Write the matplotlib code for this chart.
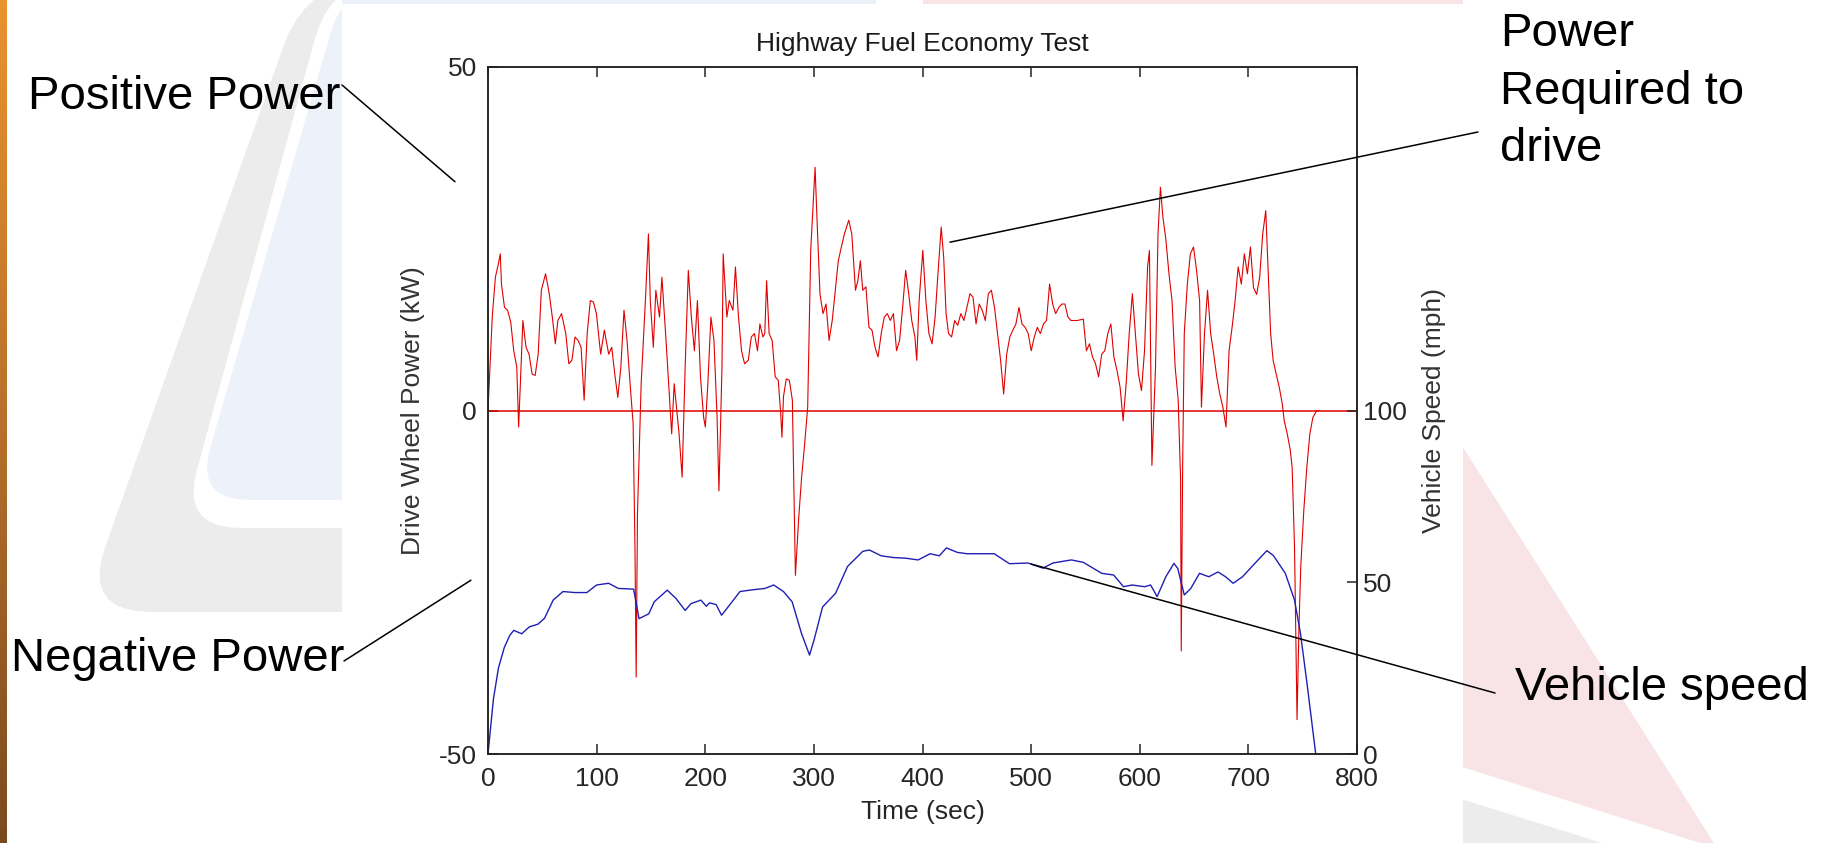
import numpy as np
import matplotlib
matplotlib.use('Agg')
import matplotlib.pyplot as plt
from matplotlib.patches import Polygon, Rectangle

plt.rcParams['font.family'] = ['Liberation Sans', 'DejaVu Sans']
plt.rcParams['axes.unicode_minus'] = False

W, H = 1832, 843

# drive wheel power (kW) vs time (s)
power_t = [0, 1.1, 3.9, 6.8, 9.6, 11.3, 12.4, 15.2, 18.0, 20.9, 23.7, 26.5, 28.2, 30.4, 32.1, 35.0,
           37.8, 40.6, 43.4, 46.2, 49.1, 53.0, 56.4, 59.2, 62.0, 64.3, 67.7, 71.6, 74.4, 77.2, 80.1,
           82.9, 85.7, 88.5, 91.3, 94.2, 97.0, 99.8, 103.7, 107.1, 111.1, 113.9, 116.7, 119.5, 122.3,
           125.2, 128.0, 130.8, 133.6, 135.3, 136.4, 137.6, 141.0, 144.9, 147.7, 149.4, 152.2, 154.5,
           157.9, 160.1, 163.5, 165.8, 169.1, 171.4, 175.9, 178.7, 181.5, 184.4, 187.2, 190.0, 192.8,
           195.6, 198.5, 200.1, 202.4, 205.2, 208.0, 210.9, 212.6, 215.4, 216.5, 219.9, 222.1, 225.5,
           227.8, 230.6, 233.4, 236.2, 239.6, 242.4, 245.3, 248.1, 250.3, 253.1, 254.8, 256.5, 258.8,
           261.6, 264.4, 267.2, 269.5, 270.6, 272.0, 274.6, 277.4, 280.2, 281.5, 283.0, 285.9, 288.7,
           291.5, 294.3, 297.1, 301.1, 302.8, 305.6, 308.4, 311.2, 314.0, 316.9, 319.7, 322.5, 325.3,
           328.1, 332.1, 334.9, 338.3, 340.5, 342.8, 345.0, 347.9, 350.7, 353.5, 356.3, 359.1, 362.0,
           364.8, 367.6, 370.4, 373.2, 376.1, 378.9, 381.7, 384.5, 387.3, 390.1, 393.0, 394.7, 396.9,
           400.3, 403.1, 405.9, 408.8, 411.6, 413.8, 417.2, 419.5, 421.7, 424.0, 426.8, 429.6, 432.4,
           435.3, 438.1, 440.9, 443.7, 446.5, 449.3, 452.2, 455.0, 457.8, 460.6, 463.4, 466.3, 469.1,
           471.9, 474.7, 477.5, 480.4, 483.2, 486.0, 488.8, 491.6, 494.5, 497.3, 500.1, 502.9, 505.7,
           508.5, 511.4, 514.2, 517.0, 519.8, 522.6, 525.5, 528.3, 531.1, 533.9, 536.7, 542.4, 548.0,
           550.9, 553.7, 556.5, 559.3, 562.1, 565.0, 567.8, 570.6, 573.4, 576.2, 579.1, 581.9, 584.7,
           587.5, 590.3, 593.2, 596.0, 598.8, 601.6, 604.4, 607.2, 608.9, 611.2, 614.5, 616.8, 619.0,
           621.3, 624.1, 626.9, 629.7, 632.6, 635.4, 637.6, 638.2, 639.5, 641.0, 643.8, 646.6, 649.5,
           652.3, 655.1, 656.8, 659.6, 662.4, 665.3, 668.1, 670.9, 673.7, 676.5, 679.4, 682.2, 685.0,
           687.8, 690.6, 693.5, 696.3, 699.1, 701.9, 704.7, 707.6, 710.4, 713.2, 716.0, 718.3, 720.5,
           722.8, 725.6, 728.4, 731.2, 733.0, 735.8, 738.6, 740.3, 742.5, 744.8, 746.5, 748.2, 751.0,
           753.8, 756.6, 759.4, 763.0, 765.0]
power_kw = [0, 3.9, 13.6, 19.4, 21.4, 22.8, 18.4, 15.0, 14.6, 12.9, 8.7, 6.3, -2.4, 6.3, 13.1, 9.2,
            8.2, 5.3, 5.1, 8.2, 17.5, 19.9, 17.0, 13.6, 9.7, 13.1, 14.1, 11.2, 6.8, 7.3, 10.7,
            10.2, 9.2, 1.5, 11.2, 16.0, 15.8, 14.1, 8.2, 11.7, 8.2, 9.2, 5.3, 1.9, 6.3,
            14.6, 10.2, 3.9, -1.9, -20.0, -38.8, -15.0, 3.9, 16.0, 25.7, 16.0, 9.2, 17.5,
            13.6, 19.4, 11.2, 5.3, -3.4, 3.9, -3.4, -9.7, 6.3, 20.4, 13.6, 8.7, 16.0,
            4.9, -1.0, -2.4, 3.9, 13.6, 10.2, -1.0, -11.7, 6.3, 22.8, 13.6, 16.0, 14.6,
            20.9, 13.6, 8.7, 6.8, 7.3, 10.7, 11.2, 8.7, 12.6, 10.7, 11.2, 18.9, 11.2,
            10.2, 4.9, 4.4, -0.5, -3.9, 2.0, 4.6, 4.4, 1.5, -10.0, -24.0, -16.0, -9.7,
            -4.9, 0.5, 23.3, 35.4, 28.2, 17.0, 14.1, 15.5, 10.2, 13.1, 17.5, 21.8, 23.8,
            25.7, 27.7, 25.7, 17.5, 18.9, 21.8, 17.5, 18.0, 12.1, 11.7, 9.2, 7.8, 11.2,
            13.6, 14.1, 13.1, 14.1, 8.7, 10.2, 15.0, 20.4, 17.0, 13.1, 10.7, 7.3, 16.0,
            23.3, 16.0, 11.2, 9.7, 13.6, 18.9, 26.7, 22.3, 14.1, 11.2, 10.7, 13.1, 12.4,
            14.1, 13.1, 15.0, 17.0, 16.5, 12.6, 15.5, 14.6, 13.1, 17.0, 17.5, 15.0, 11.2,
            7.3, 2.4, 8.2, 10.7, 11.7, 12.6, 15.0, 12.6, 12.1, 11.2, 8.7, 10.7, 12.1,
            11.2, 12.6, 13.1, 18.4, 15.5, 14.1, 15.0, 15.5, 15.5, 13.6, 13.1, 13.1, 13.3,
            8.7, 9.7, 7.8, 6.8, 4.9, 8.2, 8.7, 11.2, 12.6, 7.8, 5.8, 3.4, -1.5,
            3.9, 11.2, 17.0, 11.2, 5.3, 2.9, 8.7, 20.9, 23.3, -8.0, 6.3, 25.7, 32.5,
            28.2, 24.8, 19.9, 16.0, 6.3, 1.5, -10.0, -35.0, -8.0, 11.2, 18.4, 22.8, 23.8,
            20.4, 16.0, 0.5, 11.2, 17.5, 11.2, 8.2, 4.9, 2.4, 0.5, -2.4, 8.7, 12.1,
            16.0, 20.9, 18.4, 22.8, 19.9, 23.8, 17.9, 16.9, 19.4, 25.7, 29.1, 19.9, 11.2,
            7.3, 5.3, 3.4, 1.0, -1.5, -3.4, -5.8, -8.3, -20.0, -45.0, -32.0, -22.8, -14.6,
            -8.3, -3.4, -1.0, 0.0, 0.0]

# vehicle speed (mph) vs time (s)
speed_t = [0, 5, 9.6, 15, 20, 23.7, 31, 38, 46, 52, 60, 69, 80, 91, 100, 111, 120, 134, 136, 139,
           148, 153, 165, 173, 181.5, 187, 196, 201, 204, 210, 215, 221, 232, 243.5, 255, 263, 272,
           280, 288.7, 296, 300, 308, 320, 331, 345, 351, 362, 373, 384.5, 396, 407, 415.5, 422,
           432, 441, 466, 480, 497, 511, 520, 537, 548, 565, 576, 585, 593, 604.5, 610, 616, 624,
           631.5, 635, 641, 647, 655, 663.6, 672, 679, 686, 694.6, 706, 717, 723, 734, 742.5, 748,
           754, 762]
speed_mph = [0, 16, 25, 31, 34.5, 36, 35, 37, 37.8, 39.5, 44.8, 47.3, 47, 47, 49.2, 49.7, 48.2, 48,
             44.8, 39.4, 40.8, 44.3, 47.7, 45.3, 41.8, 43.8, 44.8, 43, 44, 43.5, 40.4, 42.8, 47.3,
             47.8, 48.2, 49.2, 47.3, 44.3, 35, 28.8, 33, 42.8, 46.8, 54.6, 59, 59.4, 57.7, 57.2, 57,
             56.5, 58.3, 57.7, 60, 58.7, 58.3, 58.3, 55.4, 55.6, 54.1, 55.6, 56.5, 55.8, 52.6, 52.1,
             48.7, 49.2, 48.7, 49.2, 45.8, 51.6, 55.5, 54, 46.3, 48.2, 52.6, 51.6, 53, 51.6, 49.7,
             51.6, 55.5, 59.2, 57.8, 52.6, 44.8, 35, 20.5, 0]

title = 'Highway Fuel Economy Test'
x_label = 'Time (sec)'
left_label = 'Drive Wheel Power (kW)'
right_label = 'Vehicle Speed (mph)'
x_ticks = [0, 100, 200, 300, 400, 500, 600, 700, 800]
power_ticks = [-50, 0, 50]
speed_ticks = [0, 50, 100]

# where each leader line touches the chart (data units)
positive_pt = (-30.4, 33.3)
negative_pt = (-15.7, -24.7)
required_pt = (425.3, 24.5)
speed_pt = (500, 55.3)


def rounded(pts, r, n=10):
    out = []
    m = len(pts)
    for i in range(m):
        p0, p1, p2 = np.array(pts[i - 1], float), np.array(pts[i], float), np.array(pts[(i + 1) % m], float)
        d0, d2 = np.linalg.norm(p0 - p1), np.linalg.norm(p2 - p1)
        a = p1 + (p0 - p1) / d0 * min(r, d0 / 2)
        b = p1 + (p2 - p1) / d2 * min(r, d2 / 2)
        for s in np.linspace(0, 1, n):
            out.append((1 - s) ** 2 * a + 2 * (1 - s) * s * p1 + s ** 2 * b)
    return out


fig = plt.figure(figsize=(W / 100, H / 100), dpi=100)
fig.patch.set_facecolor('white')

# slide background in pixel coordinates
bg = fig.add_axes([0, 0, 1, 1], zorder=0)
bg.set_xlim(0, W)
bg.set_ylim(H, 0)
bg.axis('off')

grad = np.linspace(0, 1, 200)[:, None]
cmap = matplotlib.colors.LinearSegmentedColormap.from_list('strip', ['#e9922f', '#b8702a', '#7a4a1f'])
bg.imshow(grad, cmap=cmap, extent=(0, 7, H, 0), aspect='auto', zorder=1)

bg.add_patch(Polygon(rounded([(307, -20), (82, 612), (800, 612), (800, -20)], 70), color='#ececec', lw=0, zorder=1))
bg.add_patch(Polygon(rounded([(331, -20), (181, 528), (800, 528), (800, -20)], 60), color='white', lw=0, zorder=2))
bg.add_patch(Polygon(rounded([(346, -20), (195, 500), (800, 500), (800, -20)], 55), color='#edf2fa', lw=0, zorder=3))
bg.add_patch(Polygon([(1400, 348), (1714, 843), (1700, 843), (1400, 747)], color='#f8e4e7', lw=0, zorder=1))
bg.add_patch(Polygon([(1400, 780), (1602, 843), (1400, 843)], color='#ececec', lw=0, zorder=1))
bg.add_patch(Rectangle((342, 0), 534, 6, color='#edf2fa', lw=0, zorder=3))
bg.add_patch(Rectangle((923, 0), 540, 6, color='#f8e4e7', lw=0, zorder=3))
bg.add_patch(Rectangle((342, 4), 1121, 845, color='white', lw=0, zorder=4))

# chart
ax = fig.add_axes([488 / W, 1 - 754 / H, 869 / W, 687 / H], zorder=2)
ax2 = ax.twinx()

ax.plot(power_t, power_kw, color='#e00000', lw=0.8)
ax.axhline(0, color='#e00000', lw=1.1)
ax2.plot(speed_t, speed_mph, color='#1f1fb4', lw=1.0)

ax.set_xlim(0, 800)
ax.set_ylim(-50, 50)
ax2.set_ylim(0, 200)
ax.set_xticks(x_ticks)
ax.set_yticks(power_ticks)
ax2.set_yticks(speed_ticks)

tc = '#262626'
ax.tick_params(axis='both', direction='in', length=7, width=1.1, labelsize=19, colors=tc, top=True)
ax.tick_params(axis='y', pad=8)
ax.tick_params(axis='x', pad=9)
ax2.tick_params(axis='y', direction='in', length=7, width=1.1, labelsize=19, colors=tc, pad=4.5)
for a in (ax, ax2):
    for s in a.spines.values():
        s.set_color('#222222')
        s.set_linewidth(1.1)

ax.set_title(title, fontsize=19, color='#1a1a1a', pad=11.5)
ax.set_xlabel(x_label, fontsize=19, color=tc)
ax.xaxis.set_label_coords(0.5, -0.067)
ax.set_ylabel(left_label, fontsize=19, color='#333333')
ax.yaxis.set_label_coords(-0.0725, 0.5)
ax2.set_ylabel(right_label, fontsize=19, color='#333333')
ax2.yaxis.set_label_coords(1.0748, 0.5)

# callout text and leader lines
big = 34
fig.text(28 / W, 1 - 109 / H, 'Positive Power', fontsize=big, va='baseline', ha='left', zorder=5)
fig.text(11 / W, 1 - 671 / H, 'Negative Power', fontsize=big, va='baseline', ha='left', zorder=5)
for i, line in enumerate(['Power', 'Required to', 'drive']):
    fig.text(1500 / W, 1 - (46 + 57.5 * i) / H, line, fontsize=big, va='baseline', ha='left', zorder=5)
fig.text(1515 / W, 1 - 700 / H, 'Vehicle speed', fontsize=big, va='baseline', ha='left', zorder=5)

lead = dict(arrowstyle='-', shrinkA=0, shrinkB=0, lw=1.1, color='black')
ax2.annotate('', xy=positive_pt, xycoords=ax.transData, xytext=(342, H - 85), textcoords='figure pixels',
             arrowprops=lead, annotation_clip=False)
ax2.annotate('', xy=negative_pt, xycoords=ax.transData, xytext=(344, H - 661), textcoords='figure pixels',
             arrowprops=lead, annotation_clip=False)
ax2.annotate('', xy=required_pt, xycoords=ax.transData, xytext=(1478, H - 132), textcoords='figure pixels',
             arrowprops=lead, annotation_clip=False)
ax2.annotate('', xy=speed_pt, xycoords='data', xytext=(1495, H - 693), textcoords='figure pixels',
             arrowprops=lead, annotation_clip=False)

fig.savefig('out.png', dpi=100)
